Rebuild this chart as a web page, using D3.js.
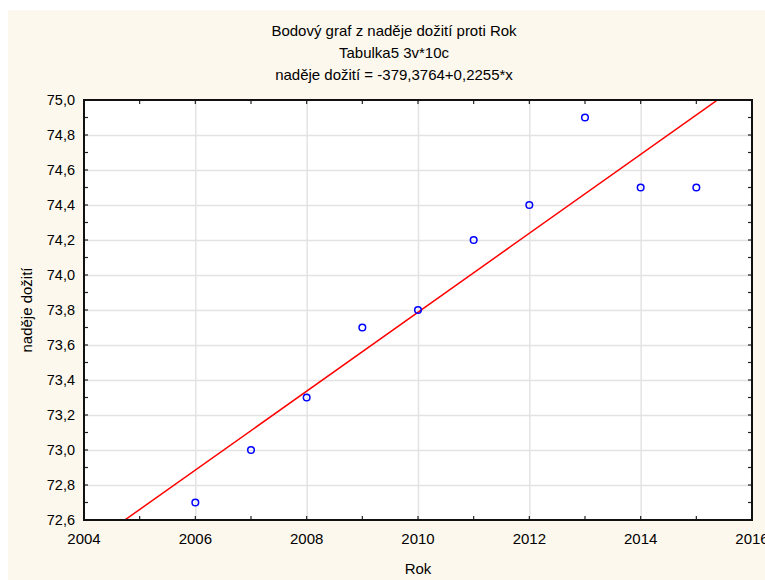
<!DOCTYPE html>
<html>
<head>
<meta charset="utf-8">
<script src="https://cdn.jsdelivr.net/npm/d3@7"></script>
<style>
  html, body { margin: 0; padding: 0; background: #ffffff; }
  svg text { font-family: "Liberation Sans", Arial, sans-serif; fill: #000; }
</style>
</head>
<body>
<svg id="chart" width="765" height="580"></svg>
<script>
// Life expectancy by year
const years = [2006, 2007, 2008, 2009, 2010, 2011, 2012, 2013, 2014, 2015];
const lifeExpectancy = [72.7, 73.0, 73.3, 73.7, 73.8, 74.2, 74.4, 74.9, 74.5, 74.5];

const xTicks = [2004, 2006, 2008, 2010, 2012, 2014, 2016];
const yTicks = [72.6, 72.8, 73.0, 73.2, 73.4, 73.6, 73.8, 74.0, 74.2, 74.4, 74.6, 74.8, 75.0];

const titleLines = ["Bodový graf z naděje dožití proti Rok", "Tabulka5 3v*10c"];
const xLabel = "Rok";
const yLabel = "naděje dožití";

const cz = d3.formatLocale({ decimal: ",", thousands: "\u00a0", grouping: [3], currency: ["", " Kč"], minus: "-" });
const fmt1 = cz.format(".1f");
const fmt4 = cz.format(".4f");

// least-squares fit y = a + b*x
const mx = d3.mean(years), my = d3.mean(lifeExpectancy);
const sxy = d3.sum(years, (x, i) => (x - mx) * (lifeExpectancy[i] - my));
const sxx = d3.sum(years, x => (x - mx) ** 2);
const slope = sxy / sxx;
const intercept = my - slope * mx;

const svg = d3.select("#chart");
const W = 765, H = 580;
const m = { left: 84, top: 100, right: 752, bottom: 520 };

svg.append("rect").attr("x", 8).attr("y", 10).attr("width", W - 8).attr("height", H - 10).attr("fill", "#fdf8ed");

const x = d3.scaleLinear().domain([2004, 2016]).range([m.left, m.right]);
const y = d3.scaleLinear().domain([72.6, 75.0]).range([m.bottom, m.top]);

svg.append("rect").attr("x", m.left).attr("y", m.top)
  .attr("width", m.right - m.left).attr("height", m.bottom - m.top).attr("fill", "#ffffff");

// grid
svg.append("g").attr("transform", `translate(0,${m.bottom})`)
  .call(d3.axisBottom(x).tickValues(xTicks.slice(1, -1)).tickSize(-(m.bottom - m.top)).tickFormat(""))
  .call(g => g.select(".domain").remove())
  .call(g => g.selectAll("line").attr("stroke", "#e3e3e3").attr("stroke-width", 1.5));
svg.append("g").attr("transform", `translate(${m.left},0)`)
  .call(d3.axisLeft(y).tickValues(yTicks.slice(1, -1)).tickSize(-(m.right - m.left)).tickFormat(""))
  .call(g => g.select(".domain").remove())
  .call(g => g.selectAll("line").attr("stroke", "#e3e3e3").attr("stroke-width", 1.5));

// inner ticks every year / every 0.1
const xMinor = d3.range(2004, 2017, 1);
const yMinor = d3.range(726, 751, 1).map(v => v / 10);
const tk = 4;
const tickG = svg.append("g").attr("stroke", "#222").attr("stroke-width", 1.2);
xMinor.forEach(v => {
  tickG.append("line").attr("x1", x(v)).attr("x2", x(v)).attr("y1", m.bottom).attr("y2", m.bottom - tk);
  tickG.append("line").attr("x1", x(v)).attr("x2", x(v)).attr("y1", m.top).attr("y2", m.top + tk);
});
yMinor.forEach(v => {
  tickG.append("line").attr("y1", y(v)).attr("y2", y(v)).attr("x1", m.left).attr("x2", m.left + tk);
  tickG.append("line").attr("y1", y(v)).attr("y2", y(v)).attr("x1", m.right).attr("x2", m.right - tk);
});

// regression line
svg.append("clipPath").attr("id", "plotClip").append("rect")
  .attr("x", m.left).attr("y", m.top).attr("width", m.right - m.left).attr("height", m.bottom - m.top);
svg.append("line")
  .attr("clip-path", "url(#plotClip)")
  .attr("x1", x(2004)).attr("y1", y(intercept + slope * 2004))
  .attr("x2", x(2016)).attr("y2", y(intercept + slope * 2016))
  .attr("stroke", "#ff0000").attr("stroke-width", 1.5);

// points
svg.append("g").selectAll("circle").data(years).join("circle")
  .attr("cx", d => x(d)).attr("cy", (d, i) => y(lifeExpectancy[i]))
  .attr("r", 3.3).attr("fill", "none").attr("stroke", "#0000ff").attr("stroke-width", 1.5);

// frame
svg.append("rect").attr("x", m.left).attr("y", m.top)
  .attr("width", m.right - m.left).attr("height", m.bottom - m.top)
  .attr("fill", "none").attr("stroke", "#111").attr("stroke-width", 2);

// tick labels
svg.append("g").selectAll("text").data(xTicks).join("text")
  .attr("x", d => x(d)).attr("y", 539).attr("dy", "0.35em")
  .attr("text-anchor", "middle").attr("font-size", 15).text(d => d);
svg.append("g").selectAll("text").data(yTicks).join("text")
  .attr("x", 75).attr("y", d => y(d)).attr("dy", "0.35em")
  .attr("text-anchor", "end").attr("font-size", 14.5).text(d => fmt1(d));

// titles
const eq = `naděje dožití = ${fmt4(intercept)}+${fmt4(slope)}*x`;
[...titleLines, eq].forEach((t, i) => {
  svg.append("text").attr("x", 394).attr("y", 31 + i * 22).attr("dy", "0.35em")
    .attr("text-anchor", "middle").attr("font-size", 15).text(t);
});

svg.append("text").attr("x", 418).attr("y", 569).attr("dy", "0.35em")
  .attr("text-anchor", "middle").attr("font-size", 15).text(xLabel);
svg.append("text").attr("transform", `translate(27,${(m.top + m.bottom) / 2}) rotate(-90)`)
  .attr("dy", "0.35em").attr("text-anchor", "middle").attr("font-size", 15).text(yLabel);
</script>
</body>
</html>
